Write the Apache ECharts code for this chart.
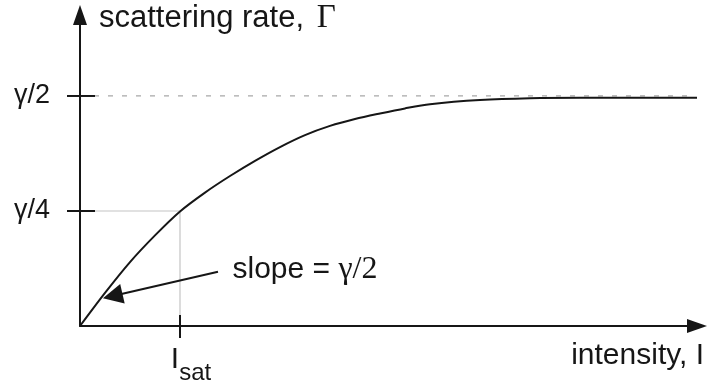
<!DOCTYPE html>
<html><head><meta charset="utf-8">
<script src="https://cdn.jsdelivr.net/npm/echarts@6/dist/echarts.min.js"></script>
<style>html,body{margin:0;padding:0;background:#fff}#c{width:708px;height:387px}</style>
</head><body><div id="c"></div>
<script>
// Curve (x in units of I_sat, y in units of gamma)
const intensity = [0, 0.25, 0.5, 0.75, 1.0, 1.25, 1.5, 1.75, 2.0, 2.25, 2.5, 2.75, 3.0, 3.25, 3.5, 4.0, 4.5, 5.0, 6.17];
const rate      = [0, 0.072, 0.139, 0.197, 0.249, 0.290, 0.326, 0.359, 0.389, 0.415, 0.435, 0.450, 0.462, 0.473, 0.482, 0.491, 0.495, 0.496, 0.496];
const yTickValues = [0.25, 0.5];
const yTickLabels = ['γ/4', 'γ/2'];
const xTickValues = [1];
const xTickLabels = ['{a|I}{b|sat}'];
const saturationLevel = 0.5;
const dashEnd = 6.07;
const isatPoint = [1, 0.25];
const slopeArrowFrom = [1.38, 0.118];
const slopeArrowTo = [0.327, 0.065];
const xMax = 6.17, yMax = 0.676;

const SANS = 'Liberation Sans, Arial, Helvetica, sans-serif';
const SERIF = 'Liberation Serif, Times New Roman, serif';
const INK = '#161616';

const chart = echarts.init(document.getElementById('c'), null, {renderer: 'canvas'});

const lineAxis = {show: true, lineStyle: {color: INK, width: 2}, symbol: ['none', 'triangle'], symbolSize: [14, 20]};

const option = {
  animation: false,
  backgroundColor: '#fff',
  grid: {left: 80, right: 11, top: 15, bottom: 61, containLabel: false, outerBoundsMode: 'none'},
  xAxis: {
    type: 'value', min: 0, max: xMax, interval: 1,
    axisLine: lineAxis,
    axisTick: {show: false}, splitLine: {show: false},
    axisLabel: {
      show: true, margin: 9, showMinLabel: true, showMaxLabel: true,
      formatter: v => { const i = xTickValues.indexOf(v); return i >= 0 ? xTickLabels[i] : ''; },
      rich: {
        a: {fontFamily: SANS, fontSize: 30, color: INK, padding: [0, 0, 0, 22]},
        b: {fontFamily: SANS, fontSize: 24, color: INK, padding: [26, 0, 0, 0]}
      }
    },
    name: 'intensity, I', nameLocation: 'end', nameGap: 7, nameMoveOverlap: false,
    nameTextStyle: {fontFamily: SANS, fontSize: 30, color: INK, align: 'right', verticalAlign: 'top', padding: [15, 0, 0, 0]}
  },
  yAxis: {
    type: 'value', min: 0, max: yMax, interval: 0.25,
    axisLine: lineAxis,
    axisTick: {show: false}, splitLine: {show: false},
    axisLabel: {
      show: true, margin: 30,
      formatter: v => { const i = yTickValues.indexOf(v); return i >= 0 ? yTickLabels[i] : ''; },
      fontFamily: SANS, fontSize: 27, color: INK
    },
    name: '{a|scattering rate, }{b|Γ}', nameLocation: 'end', nameGap: -3, nameMoveOverlap: false,
    nameTextStyle: {align: 'left', verticalAlign: 'middle', padding: [0, 0, 0, 19],
      rich: {a: {fontFamily: SANS, fontSize: 31, color: INK}, b: {fontFamily: SERIF, fontSize: 33, color: INK, padding: [0, 0, 0, 4]}}}
  },
  series: [
    {type: 'line', silent: true, symbol: 'none', z: 1,
     data: [[0, isatPoint[1]], isatPoint, [isatPoint[0], 0]],
     lineStyle: {color: '#c4c4c4', width: 1.2}},
    {type: 'line', silent: true, symbol: 'none', z: 1,
     data: [[0, saturationLevel], [dashEnd, saturationLevel]],
     lineStyle: {color: '#a8a8a8', width: 1.2, type: [5, 9]}},
    {type: 'line', silent: true, symbol: 'none', smooth: 0.3, z: 3,
     data: intensity.map((x, i) => [x, rate[i]]),
     lineStyle: {color: INK, width: 2}},
    {type: 'custom', silent: true, z: 4,
     data: yTickValues.map(v => [0, v]),
     renderItem: (params, api) => {
       const p = api.coord([api.value(0), api.value(1)]);
       return {type: 'line', shape: {x1: p[0] - 13, y1: p[1], x2: p[0] + 15, y2: p[1]}, style: {stroke: INK, lineWidth: 2}};
     }},
    {type: 'custom', silent: true, z: 4,
     data: xTickValues.map(v => [v, 0]),
     renderItem: (params, api) => {
       const p = api.coord([api.value(0), api.value(1)]);
       return {type: 'line', shape: {x1: p[0], y1: p[1] - 11, x2: p[0], y2: p[1] + 12}, style: {stroke: INK, lineWidth: 2}};
     }},
    {type: 'lines', coordinateSystem: 'cartesian2d', silent: true, z: 5,
     data: [{coords: [slopeArrowFrom, slopeArrowTo]}],
     symbol: ['none', 'triangle'], symbolSize: [11, 20],
     lineStyle: {color: INK, width: 2, opacity: 1}},
    {type: 'scatter', silent: true, z: 5,
     data: [slopeArrowFrom], symbolSize: 1, itemStyle: {color: 'transparent', opacity: 1},
     label: {show: true, position: 'right', distance: 14, offset: [0, -2], color: INK, opacity: 1,
       formatter: '{a|slope = }{b|γ/2}',
       rich: {a: {fontFamily: SANS, fontSize: 30, color: INK, opacity: 1}, b: {fontFamily: SERIF, fontSize: 32, color: INK, opacity: 1}}}}
  ]
};
chart.setOption(option);
</script>
</body></html>
